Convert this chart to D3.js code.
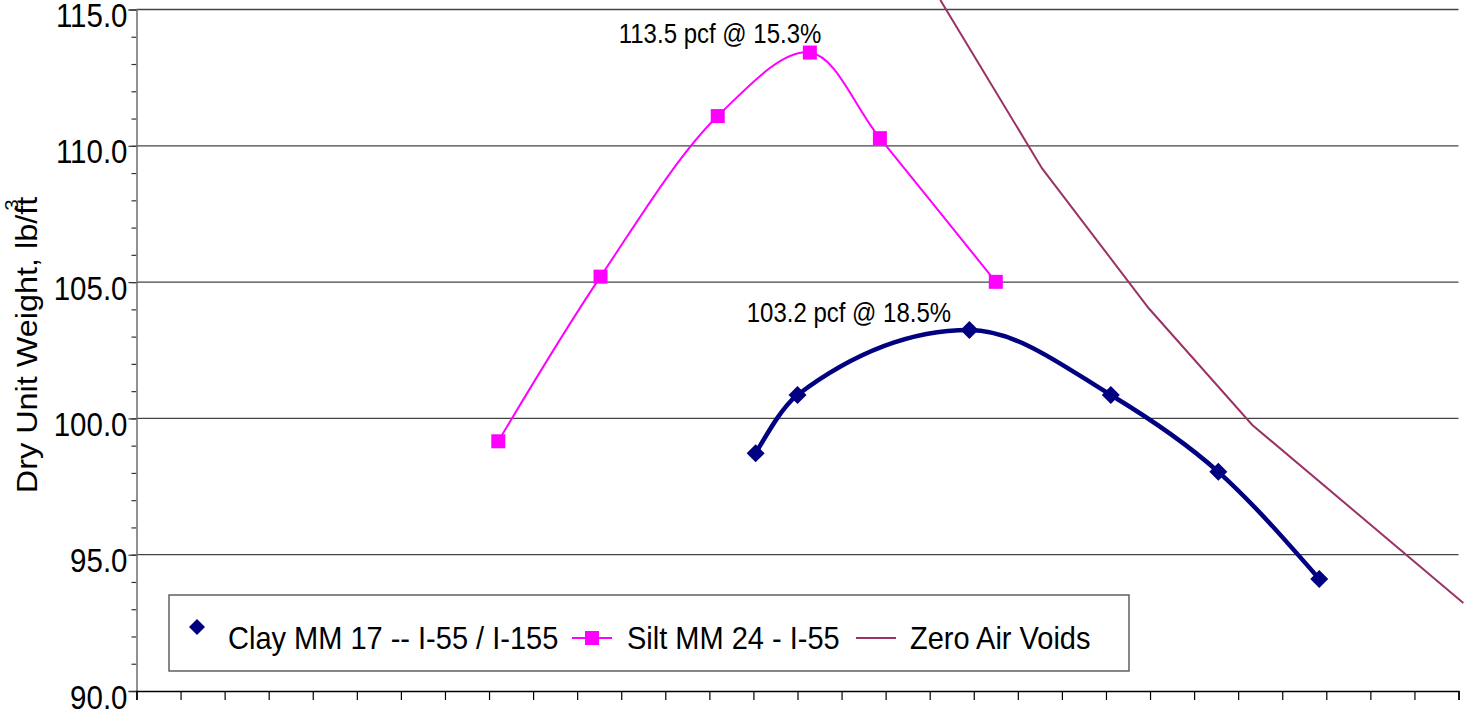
<!DOCTYPE html>
<html>
<head>
<meta charset="utf-8">
<script src="https://cdn.jsdelivr.net/npm/d3@7"></script>
<style>
  html, body { margin: 0; padding: 0; background: #fff; }
  svg { display: block; font-family: "Liberation Sans", Arial, sans-serif; }
</style>
</head>
<body>
<svg id="chart" width="1465" height="714"></svg>
<script>
// Moisture content (%) and dry unit weight (pcf) for each compaction test
const clayMoisture = [14.05, 15.0, 18.9, 22.11, 24.55, 26.84];
const clayDensity  = [98.72, 100.86, 103.24, 100.86, 98.04, 94.11];

const siltMoisture = [8.21, 10.53, 13.19, 15.28, 16.87, 19.50];
const siltDensity  = [99.16, 105.20, 111.09, 113.42, 110.28, 105.01];

// Zero air voids line
const zavMoisture = [18.24, 20.55, 22.97, 25.32, 30.11];
const zavDensity  = [115.35, 109.17, 104.04, 99.76, 93.23];

// Optimum moisture / maximum dry unit weight callouts
const optLabels   = ["113.5 pcf @ 15.3%", "103.2 pcf @ 18.5%"];
const optMoisture = [15.3, 18.5];
const optDensity  = [113.5, 103.2];

const seriesNames = ["Clay MM 17 -- I-55 / I-155", "Silt MM 24 - I-55", "Zero Air Voids"];
const yTickValues = [90, 95, 100, 105, 110, 115];

const CLAY = "#000080", SILT = "#ff00ff", ZAV = "#993366";

const svg = d3.select("#chart");
const x = d3.scaleLinear().domain([0, 30]).range([136.5, 1458.5]);
const y = d3.scaleLinear().domain([90, 115]).range([691, 9.5]);

// horizontal gridlines
svg.append("g").selectAll("line").data(yTickValues.filter(v => v > 90)).join("line")
  .attr("x1", x(0)).attr("x2", x(30))
  .attr("y1", d => y(d)).attr("y2", d => y(d))
  .attr("stroke", "#444").attr("stroke-width", 1.3);

// minor y ticks
svg.append("g").attr("transform", `translate(${x(0)},0)`)
  .call(d3.axisLeft(y).tickValues(d3.range(90, 116, 1)).tickSize(5).tickFormat(""))
  .call(g => g.select(".domain").remove())
  .call(g => g.selectAll("line").attr("stroke", "#333").attr("stroke-width", 1.2));

// major y axis with labels
svg.append("g").attr("transform", `translate(${x(0)},0)`)
  .call(d3.axisLeft(y).tickValues(yTickValues).tickSize(8).tickFormat(d3.format(".1f")))
  .call(g => g.select(".domain").attr("stroke", "#777").attr("stroke-width", 1.6))
  .call(g => g.selectAll("line").attr("stroke", "#333").attr("stroke-width", 1.2))
  .call(g => g.selectAll("text")
    .attr("font-family", "'Liberation Sans', Arial, sans-serif")
    .attr("font-size", 29.5).attr("fill", "#000")
    .attr("x", -9).attr("dy", 0).attr("y", 15.5)
    .attr("transform", "scale(1,1.1)"));

// x axis: ticks only
svg.append("g").attr("transform", `translate(0,${y(90)})`)
  .call(d3.axisBottom(x).tickValues(d3.range(0, 31, 1)).tickSize(9).tickFormat(""))
  .call(g => g.select(".domain").attr("stroke", "#000").attr("stroke-width", 1.5))
  .call(g => g.selectAll("line").attr("stroke", "#000").attr("stroke-width", 1.2));

// y axis title
const title = svg.append("text")
  .attr("transform", "translate(37,345) rotate(-90) scale(1.08,1)")
  .attr("text-anchor", "middle").attr("font-size", 30).attr("fill", "#000");
title.append("tspan").text("Dry Unit Weight, lb/ft");
title.append("tspan").attr("dy", -19).attr("dx", -13).attr("font-size", 19).text("3");

// zero air voids
svg.append("path")
  .datum(d3.zip(zavMoisture, zavDensity))
  .attr("d", d3.line().x(d => x(d[0])).y(d => y(d[1])))
  .attr("fill", "none").attr("stroke", ZAV).attr("stroke-width", 2);

// silt curve and markers
svg.append("path")
  .datum(d3.zip(siltMoisture, siltDensity))
  .attr("d", d3.line().x(d => x(d[0])).y(d => y(d[1])).curve(d3.curveCatmullRom.alpha(0.5)))
  .attr("fill", "none").attr("stroke", SILT).attr("stroke-width", 2);
svg.append("g").selectAll("rect").data(d3.zip(siltMoisture, siltDensity)).join("rect")
  .attr("x", d => x(d[0]) - 7).attr("y", d => y(d[1]) - 7)
  .attr("width", 14).attr("height", 14).attr("fill", SILT);

// clay curve and markers
svg.append("path")
  .datum(d3.zip(clayMoisture, clayDensity))
  .attr("d", d3.line().x(d => x(d[0])).y(d => y(d[1])).curve(d3.curveMonotoneX))
  .attr("fill", "none").attr("stroke", CLAY).attr("stroke-width", 4.5)
  .attr("stroke-linejoin", "round");
const diamond = s => `M0,${-s}L${s},0L0,${s}L${-s},0Z`;
svg.append("g").selectAll("path").data(d3.zip(clayMoisture, clayDensity)).join("path")
  .attr("transform", d => `translate(${x(d[0])},${y(d[1])})`)
  .attr("d", diamond(9)).attr("fill", CLAY);

// optimum callouts, placed just above each curve's peak
const calloutDx = [-192, -205];
const calloutDy = [-7.5, -9];
svg.append("g").selectAll("text").data(optLabels).join("text")
  .attr("transform", (d, i) =>
    `translate(${x(optMoisture[i]) + calloutDx[i]},${y(optDensity[i]) + calloutDy[i]}) scale(1,1.12)`)
  .attr("font-size", 24).attr("fill", "#000").text(d => d);

// legend
const lg = svg.append("g");
lg.append("rect").attr("x", 169).attr("y", 595).attr("width", 960).attr("height", 76)
  .attr("fill", "#fff").attr("stroke", "#555").attr("stroke-width", 1.4);
lg.append("path").attr("transform", "translate(197,627)").attr("d", diamond(8)).attr("fill", CLAY);
lg.append("line").attr("x1", 572).attr("x2", 612).attr("y1", 638).attr("y2", 638)
  .attr("stroke", SILT).attr("stroke-width", 2);
lg.append("rect").attr("x", 585).attr("y", 631).attr("width", 14).attr("height", 14).attr("fill", SILT);
lg.append("line").attr("x1", 856).attr("x2", 896).attr("y1", 638).attr("y2", 638)
  .attr("stroke", ZAV).attr("stroke-width", 2);
const legendX = [228, 627, 910];
lg.selectAll("text.lbl").data(seriesNames).join("text").attr("class", "lbl")
  .attr("transform", (d, i) => `translate(${legendX[i]},649) scale(1,1.08)`)
  .attr("font-size", 29).attr("fill", "#000").text(d => d);
</script>
</body>
</html>
